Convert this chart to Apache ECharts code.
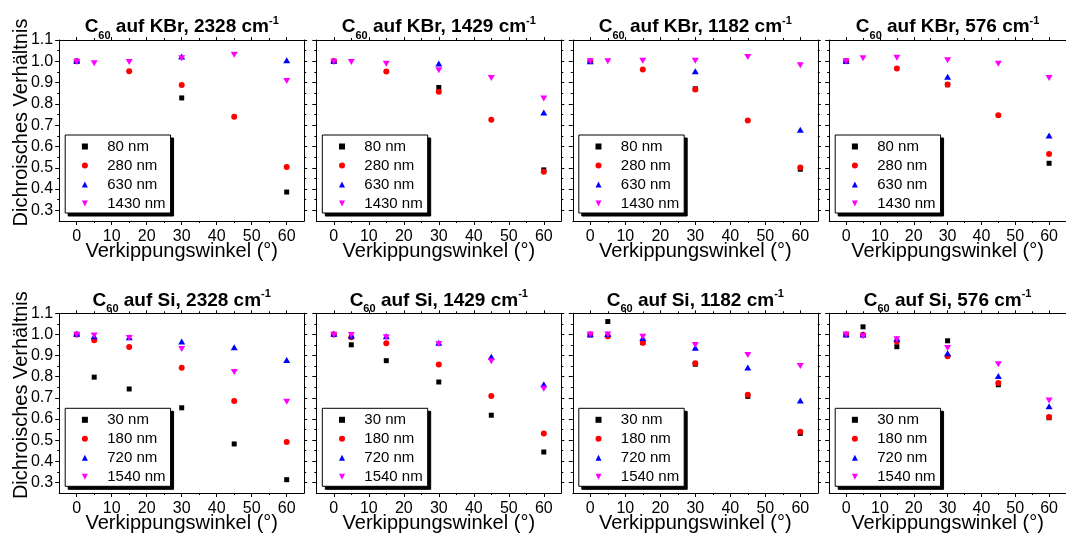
<!DOCTYPE html>
<html><head><meta charset="utf-8">
<script src="https://cdn.jsdelivr.net/npm/echarts@6/dist/echarts.min.js"></script>
<style>html,body{margin:0;padding:0;background:#fff}#c{width:1066px;height:534px}</style>
</head><body><div id="c"></div>
<script>
// ---------------- data ----------------
const xTicks = [0, 10, 20, 30, 40, 50, 60];
const xMinorTicks = [5, 15, 25, 35, 45, 55];
const yTicks = [0.3, 0.4, 0.5, 0.6, 0.7, 0.8, 0.9, 1.0, 1.1];
const yMinorTicks = [0.35, 0.45, 0.55, 0.65, 0.75, 0.85, 0.95, 1.05];
const wavenumbers = ['2328', '1429', '1182', '576'];
const kbrThickness = ['80 nm', '280 nm', '630 nm', '1430 nm'];
const siThickness = ['30 nm', '180 nm', '720 nm', '1540 nm'];

// C60 auf KBr  [Verkippungswinkel, Verhältnis]
const kbr2328_80   = [[0,1.0],[30,0.828],[60,0.386]];
const kbr2328_280  = [[0,1.0],[15,0.953],[30,0.889],[45,0.740],[60,0.504]];
const kbr2328_630  = [[0,1.002],[30,1.022],[60,1.005]];
const kbr2328_1430 = [[0,0.998],[5,0.991],[15,0.997],[30,1.014],[45,1.031],[60,0.908]];

const kbr1429_80   = [[0,1.0],[30,0.877],[60,0.490]];
const kbr1429_280  = [[0,1.0],[15,0.952],[30,0.857],[45,0.726],[60,0.481]];
const kbr1429_630  = [[0,1.003],[30,0.990],[60,0.760]];
const kbr1429_1430 = [[0,0.998],[5,0.997],[15,0.989],[30,0.958],[45,0.922],[60,0.825]];

const kbr1182_80   = [[0,1.0],[30,0.871],[60,0.493]];
const kbr1182_280  = [[0,1.0],[15,0.961],[30,0.867],[45,0.722],[60,0.501]];
const kbr1182_630  = [[0,1.0],[30,0.953],[60,0.679]];
const kbr1182_1430 = [[0,1.0],[5,1.0],[15,1.003],[30,1.003],[45,1.020],[60,0.981]];

const kbr576_80    = [[0,1.0],[30,0.890],[60,0.521]];
const kbr576_280   = [[0,1.0],[15,0.966],[30,0.891],[45,0.747],[60,0.565]];
const kbr576_630   = [[0,1.002],[30,0.928],[60,0.652]];
const kbr576_1430  = [[0,1.0],[5,1.014],[15,1.017],[30,1.005],[45,0.989],[60,0.922]];

// C60 auf Si
const si2328_30    = [[0,1.0],[5,0.798],[15,0.742],[30,0.653],[45,0.482],[60,0.313]];
const si2328_180   = [[0,1.0],[5,0.973],[15,0.941],[30,0.842],[45,0.685],[60,0.491]];
const si2328_720   = [[0,1.003],[5,0.992],[15,0.987],[30,0.967],[45,0.939],[60,0.879]];
const si2328_1540  = [[0,0.998],[5,0.995],[15,0.983],[30,0.931],[45,0.822],[60,0.682]];

const si1429_30    = [[0,1.0],[5,0.951],[15,0.876],[30,0.775],[45,0.618],[60,0.444]];
const si1429_180   = [[0,1.0],[5,0.987],[15,0.958],[30,0.858],[45,0.709],[60,0.531]];
const si1429_720   = [[0,1.003],[5,0.994],[15,0.991],[30,0.961],[45,0.895],[60,0.764]];
const si1429_1540  = [[0,0.998],[5,0.997],[15,0.987],[30,0.955],[45,0.873],[60,0.743]];

const si1182_30    = [[0,1.0],[5,1.061],[15,0.961],[30,0.859],[45,0.707],[60,0.532]];
const si1182_180   = [[0,1.0],[5,0.991],[15,0.961],[30,0.864],[45,0.715],[60,0.540]];
const si1182_720   = [[0,1.0],[5,1.002],[15,0.983],[30,0.937],[45,0.844],[60,0.687]];
const si1182_1540  = [[0,1.0],[5,1.0],[15,0.989],[30,0.950],[45,0.903],[60,0.851]];

const si576_30     = [[0,1.0],[5,1.036],[15,0.942],[30,0.970],[45,0.762],[60,0.606]];
const si576_180    = [[0,1.0],[5,0.998],[15,0.967],[30,0.897],[45,0.770],[60,0.609]];
const si576_720    = [[0,1.0],[5,1.0],[15,0.980],[30,0.911],[45,0.804],[60,0.660]];
const si576_1540   = [[0,1.0],[5,0.991],[15,0.977],[30,0.936],[45,0.859],[60,0.687]];

// ---------------- build ----------------
const panels = [
  {sub:'KBr', wn:wavenumbers[0], names:kbrThickness, sets:[kbr2328_80,kbr2328_280,kbr2328_630,kbr2328_1430]},
  {sub:'KBr', wn:wavenumbers[1], names:kbrThickness, sets:[kbr1429_80,kbr1429_280,kbr1429_630,kbr1429_1430]},
  {sub:'KBr', wn:wavenumbers[2], names:kbrThickness, sets:[kbr1182_80,kbr1182_280,kbr1182_630,kbr1182_1430]},
  {sub:'KBr', wn:wavenumbers[3], names:kbrThickness, sets:[kbr576_80,kbr576_280,kbr576_630,kbr576_1430]},
  {sub:'Si', wn:wavenumbers[0], names:siThickness, sets:[si2328_30,si2328_180,si2328_720,si2328_1540]},
  {sub:'Si', wn:wavenumbers[1], names:siThickness, sets:[si1429_30,si1429_180,si1429_720,si1429_1540]},
  {sub:'Si', wn:wavenumbers[2], names:siThickness, sets:[si1182_30,si1182_180,si1182_720,si1182_1540]},
  {sub:'Si', wn:wavenumbers[3], names:siThickness, sets:[si576_30,si576_180,si576_720,si576_1540]}
];

const FONT = '"Liberation Sans", Arial, sans-serif';
const colors = ['#000000', '#ff0000', '#0000ff', '#ff00ff'];
const symbols = ['rect', 'circle', 'triangle', 'path://M0,0L10,0L5,10Z'];
const sizes = [5, 6, [7, 6], [7, 6]];
const lefts = [59.2, 316.3, 572.8, 829.2];
const tops = [40, 313.3];
const W = 245, H = 181;

const grid = [], xAxis = [], yAxis = [], series = [], legend = [];
const lineStyle = {color: '#000', width: 1};

panels.forEach((p, i) => {
  const col = i % 4, row = Math.floor(i / 4);
  grid.push({left: lefts[col], top: tops[row], width: W, height: H});

  const bx = {type: 'value', gridIndex: i, min: -5, max: 65, splitLine: {show: false},
    axisLine: {show: true, onZero: false, lineStyle}, axisLabel: {show: false}, nameMoveOverlap: false};
  const xi = xAxis.length;
  xAxis.push(Object.assign({}, bx, {position: 'bottom',
    axisTick: {show: true, inside: false, length: 4, lineStyle, customValues: xTicks},
    axisLabel: {show: true, customValues: xTicks, fontSize: 16, color: '#000', fontFamily: FONT, margin: 8},
    name: 'Verkippungswinkel (°)', nameLocation: 'middle', nameGap: 20,
    nameTextStyle: {fontSize: 20, color: '#000', fontFamily: FONT}}));
  xAxis.push(Object.assign({}, bx, {position: 'bottom', axisLine: {show: false, onZero: false},
    axisTick: {show: true, inside: false, length: 2, lineStyle, customValues: xMinorTicks}}));
  xAxis.push(Object.assign({}, bx, {position: 'top',
    axisTick: {show: true, inside: false, length: 3, lineStyle, customValues: xTicks},
    name: '{a|C}{s|60}{a| auf ' + p.sub + ', ' + p.wn + ' cm}{p|-1}', nameLocation: 'middle', nameGap: 1,
    nameTextStyle: {color: '#000', rich: {
      a: {fontSize: 19, fontWeight: 'bold', fontFamily: FONT, color: '#000', lineHeight: 24},
      s: {fontSize: 11, fontWeight: 'bold', fontFamily: FONT, color: '#000', lineHeight: 11, padding: [18, 0, 0, 0]},
      p: {fontSize: 11, fontWeight: 'bold', fontFamily: FONT, color: '#000', lineHeight: 11, padding: [0, 0, 12.4, 0]}
    }}}));
  xAxis.push(Object.assign({}, bx, {position: 'top', axisLine: {show: false, onZero: false},
    axisTick: {show: true, inside: false, length: 2, lineStyle, customValues: xMinorTicks}}));

  const by = {type: 'value', gridIndex: i, min: 0.25, max: 1.1, splitLine: {show: false},
    axisLine: {show: true, onZero: false, lineStyle}, axisLabel: {show: false}, nameMoveOverlap: false};
  const yi = yAxis.length;
  const left = Object.assign({}, by, {position: 'left',
    axisTick: {show: true, inside: false, length: 4, lineStyle, customValues: yTicks},
    axisLabel: {show: col === 0, customValues: yTicks, fontSize: 16, color: '#000', fontFamily: FONT, margin: 6,
      formatter: v => Number(v).toFixed(1)}});
  if (col === 0) {
    Object.assign(left, {name: 'Dichroisches Verhältnis', nameLocation: 'middle', nameGap: 28,
      nameTextStyle: {fontSize: 20, color: '#000', fontFamily: FONT, padding: [0, 0, 0, 16]}});
  }
  yAxis.push(left);
  yAxis.push(Object.assign({}, by, {position: 'left', axisLine: {show: false, onZero: false},
    axisTick: {show: true, inside: false, length: 2, lineStyle, customValues: yMinorTicks}}));
  yAxis.push(Object.assign({}, by, {position: 'right',
    axisTick: {show: true, inside: false, length: 3, lineStyle, customValues: yTicks}}));
  yAxis.push(Object.assign({}, by, {position: 'right', axisLine: {show: false, onZero: false},
    axisTick: {show: true, inside: false, length: 2, lineStyle, customValues: yMinorTicks}}));

  p.sets.forEach((d, k) => {
    series.push({type: 'scatter', name: p.names[k], xAxisIndex: xi, yAxisIndex: yi, data: d,
      symbol: symbols[k], symbolSize: sizes[k], itemStyle: {color: colors[k], opacity: 1},
      emphasis: {disabled: true}, z: 2 + k, animation: false});
  });

  const legendBase = {orient: 'vertical', data: p.names, selectedMode: false,
    itemWidth: 6, itemHeight: 6, itemGap: 0, padding: [2, 5, 0, 16.7],
    borderWidth: 1, borderRadius: 0};
  // offset black copy acting as the drop shadow
  legend.push(Object.assign({}, legendBase, {left: lefts[col] + 9, top: tops[row] + 98, z: 5,
    backgroundColor: '#000', borderColor: '#000', itemStyle: {color: '#000'},
    textStyle: {fontSize: 15, color: '#000', fontFamily: FONT, lineHeight: 19, padding: [0, 0, 0, 14.3]}}));
  legend.push(Object.assign({}, legendBase, {left: lefts[col] + 6, top: tops[row] + 95, z: 6,
    backgroundColor: '#fff', borderColor: '#000',
    textStyle: {fontSize: 15, color: '#000', fontFamily: FONT, lineHeight: 19, padding: [0, 0, 0, 14.3]}}));
});

const chart = echarts.init(document.getElementById('c'), null, {renderer: 'canvas'});
chart.setOption({animation: false, backgroundColor: '#fff', grid, xAxis, yAxis, series, legend});
</script>
</body></html>
